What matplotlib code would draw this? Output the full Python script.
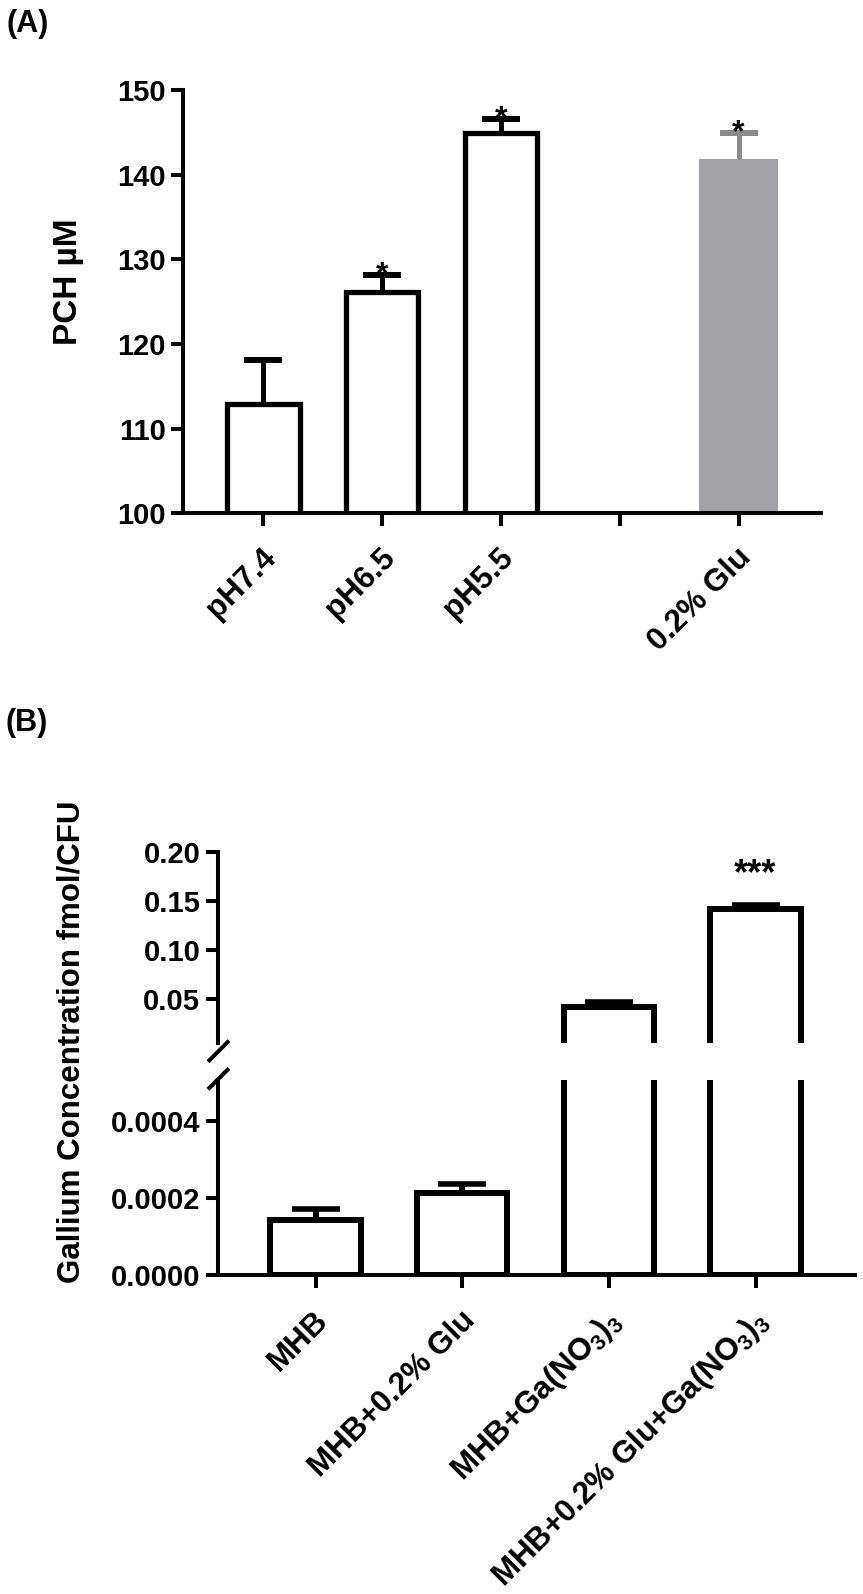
import matplotlib
matplotlib.use('Agg')
import matplotlib.pyplot as plt
import numpy as np

plt.rcParams['font.family'] = ['Liberation Sans', 'DejaVu Sans']
plt.rcParams['font.weight'] = 'bold'
plt.rcParams['mathtext.fontset'] = 'custom'
plt.rcParams['mathtext.rm'] = 'Liberation Sans'
plt.rcParams['mathtext.it'] = 'Liberation Sans:italic'
plt.rcParams['mathtext.bf'] = 'Liberation Sans:bold'

# ---------------- Data ----------------
# Panel A
a_categories = ['pH7.4', 'pH6.5', 'pH5.5', '', '0.2% Glu']
a_means = [112.9, 126.1, 144.9, np.nan, 141.9]
a_errs = [5.2, 2.0, 1.7, np.nan, 3.0]
a_filled = [False, False, False, False, True]
a_stars = ['', '*', '*', '', '*']
a_yticks = [100, 110, 120, 130, 140, 150]

# Panel B
b_categories = ['MHB', 'MHB+0.2% Glu', r'MHB+Ga(NO$_3$)$_3$',
                r'MHB+0.2% Glu+Ga(NO$_3$)$_3$']
b_means = [0.000142, 0.000214, 0.0423, 0.1418]
b_errs = [0.000030, 0.000022, 0.0048, 0.0046]
b_stars = ['', '', '', '***']
b_top_ticks = [0.05, 0.10, 0.15, 0.20]
b_top_ticklabels = ['0.05', '0.10', '0.15', '0.20']
b_bot_ticks = [0.0, 0.0002, 0.0004]
b_bot_ticklabels = ['0.0000', '0.0002', '0.0004']

# ---------------- Figure ----------------
W, H = 863, 1594
fig = plt.figure(figsize=(W / 100, H / 100), dpi=100)


def pos(l, r, t, b):
    return [l / W, 1 - b / H, (r - l) / W, (b - t) / H]


SPINE_LW = 2.9
TICK_FS = 21
XLAB_FS = 22.5
GREY_FILL = '#a3a3a7'
GREY_ERR = '#8a8a8a'


def style_axis(ax):
    for s in ['top', 'right']:
        ax.spines[s].set_visible(False)
    for s in ['left', 'bottom']:
        ax.spines[s].set_linewidth(SPINE_LW)
        ax.spines[s].set_capstyle('projecting')
    ax.tick_params(axis='both', width=SPINE_LW, length=9, labelsize=TICK_FS)
    ax.tick_params(axis='y', pad=3.5)


def upper_errorbar(ax, x, y, err, color, elw, capsize, capthick):
    _, caps, _ = ax.errorbar(x, y, yerr=[np.zeros(len(err)), err], fmt='none',
                             ecolor=color, elinewidth=elw, capsize=capsize,
                             capthick=capthick, zorder=3)
    # drop the caps sitting on the bar tops (lower error is zero)
    for c in caps:
        if np.allclose(c.get_ydata(), y):
            c.remove()


def rotated_labels(ax, xs, labels, dx_pt, dy_pt, fs):
    ax.set_xticklabels([''] * len(xs))
    for x, lab in zip(xs, labels):
        if not lab:
            continue
        ax.annotate(lab, xy=(x, 0), xycoords=('data', 'axes fraction'),
                    xytext=(dx_pt, dy_pt), textcoords='offset points',
                    rotation=45, ha='right', va='baseline',
                    rotation_mode='anchor', fontsize=fs, annotation_clip=False)


# ---------- Panel A ----------
axA = fig.add_axes(pos(183, 821, 90, 513.3))
style_axis(axA)
xa = np.arange(len(a_categories))
for i in range(len(a_categories)):
    if np.isnan(a_means[i]):
        continue
    if a_filled[i]:
        axA.bar(xa[i], a_means[i], width=0.665, color=GREY_FILL,
                edgecolor='none', zorder=2)
        ecol = GREY_ERR
    else:
        axA.bar(xa[i], a_means[i], width=0.61, color='white',
                edgecolor='black', linewidth=3.8, joinstyle='miter', zorder=2)
        ecol = 'black'
    upper_errorbar(axA, [xa[i]], [a_means[i]], [a_errs[i]], ecol, 3.6, 13.9, 4.3)
    if a_stars[i]:
        axA.annotate(a_stars[i], xy=(xa[i], a_means[i] + a_errs[i]),
                     xytext=(0, -6), textcoords='offset points',
                     ha='center', va='baseline', fontsize=23, color='black')
axA.set_xlim(-0.676, 4.693)
axA.set_ylim(100, 150)
axA.set_yticks(a_yticks)
axA.set_xticks(xa)
rotated_labels(axA, xa, a_categories, 10.0, -33.0, XLAB_FS)

# ---------- Panel B ----------
axBt = fig.add_axes(pos(217.7, 855, 852.3, 1043.4))
axBb = fig.add_axes(pos(217.7, 855, 1080, 1275.3))
xb = np.arange(len(b_categories))
for ax in (axBt, axBb):
    style_axis(ax)
    ax.bar(xb, b_means, width=0.615, color='white', edgecolor='black',
           linewidth=4.3, joinstyle='miter', zorder=2)
    upper_errorbar(ax, xb, b_means, b_errs, 'black', 4.3, 17.6, 4.0)
    ax.set_xlim(-0.667, 3.678)

axBt.spines['bottom'].set_visible(False)
axBt.tick_params(axis='x', which='both', bottom=False, labelbottom=False)
axBt.set_ylim(0.005, 0.20)
axBt.set_yticks(b_top_ticks)
axBt.set_yticklabels(b_top_ticklabels)
for i, s in enumerate(b_stars):
    if s:
        axBt.annotate(s, xy=(xb[i], b_means[i] + b_errs[i]),
                      xytext=(0, 14.6), textcoords='offset points',
                      ha='center', va='baseline', fontsize=26, color='black')

axBb.set_ylim(0, 0.000505)
axBb.set_yticks(b_bot_ticks)
axBb.set_yticklabels(b_bot_ticklabels)
axBb.set_xticks(xb)
rotated_labels(axBb, xb, b_categories, 10.0, -33.6, XLAB_FS)

# axis break marks on the left spine
axBt.plot([-0.0152, 0.0177], [-0.0958, 0.0141], transform=axBt.transAxes,
          color='black', lw=SPINE_LW, clip_on=False, solid_capstyle='butt')
axBb.plot([-0.0152, 0.0177], [0.9524, 1.0599], transform=axBb.transAxes,
          color='black', lw=SPINE_LW, clip_on=False, solid_capstyle='butt')

# ---------- Labels ----------
fig.text(68 / W, 1 - 282 / H, 'PCH µM', rotation=90, ha='center',
         va='center', fontsize=24)
fig.text(71 / W, 1 - 1042 / H, 'Gallium Concentration fmol/CFU',
         rotation=90, ha='center', va='center', fontsize=22.5)
fig.text(6 / W, 1 - 24 / H, '(A)', ha='left', va='center', fontsize=22)
fig.text(5 / W, 1 - 723 / H, '(B)', ha='left', va='center', fontsize=22)

fig.savefig('out.png', dpi=100)
